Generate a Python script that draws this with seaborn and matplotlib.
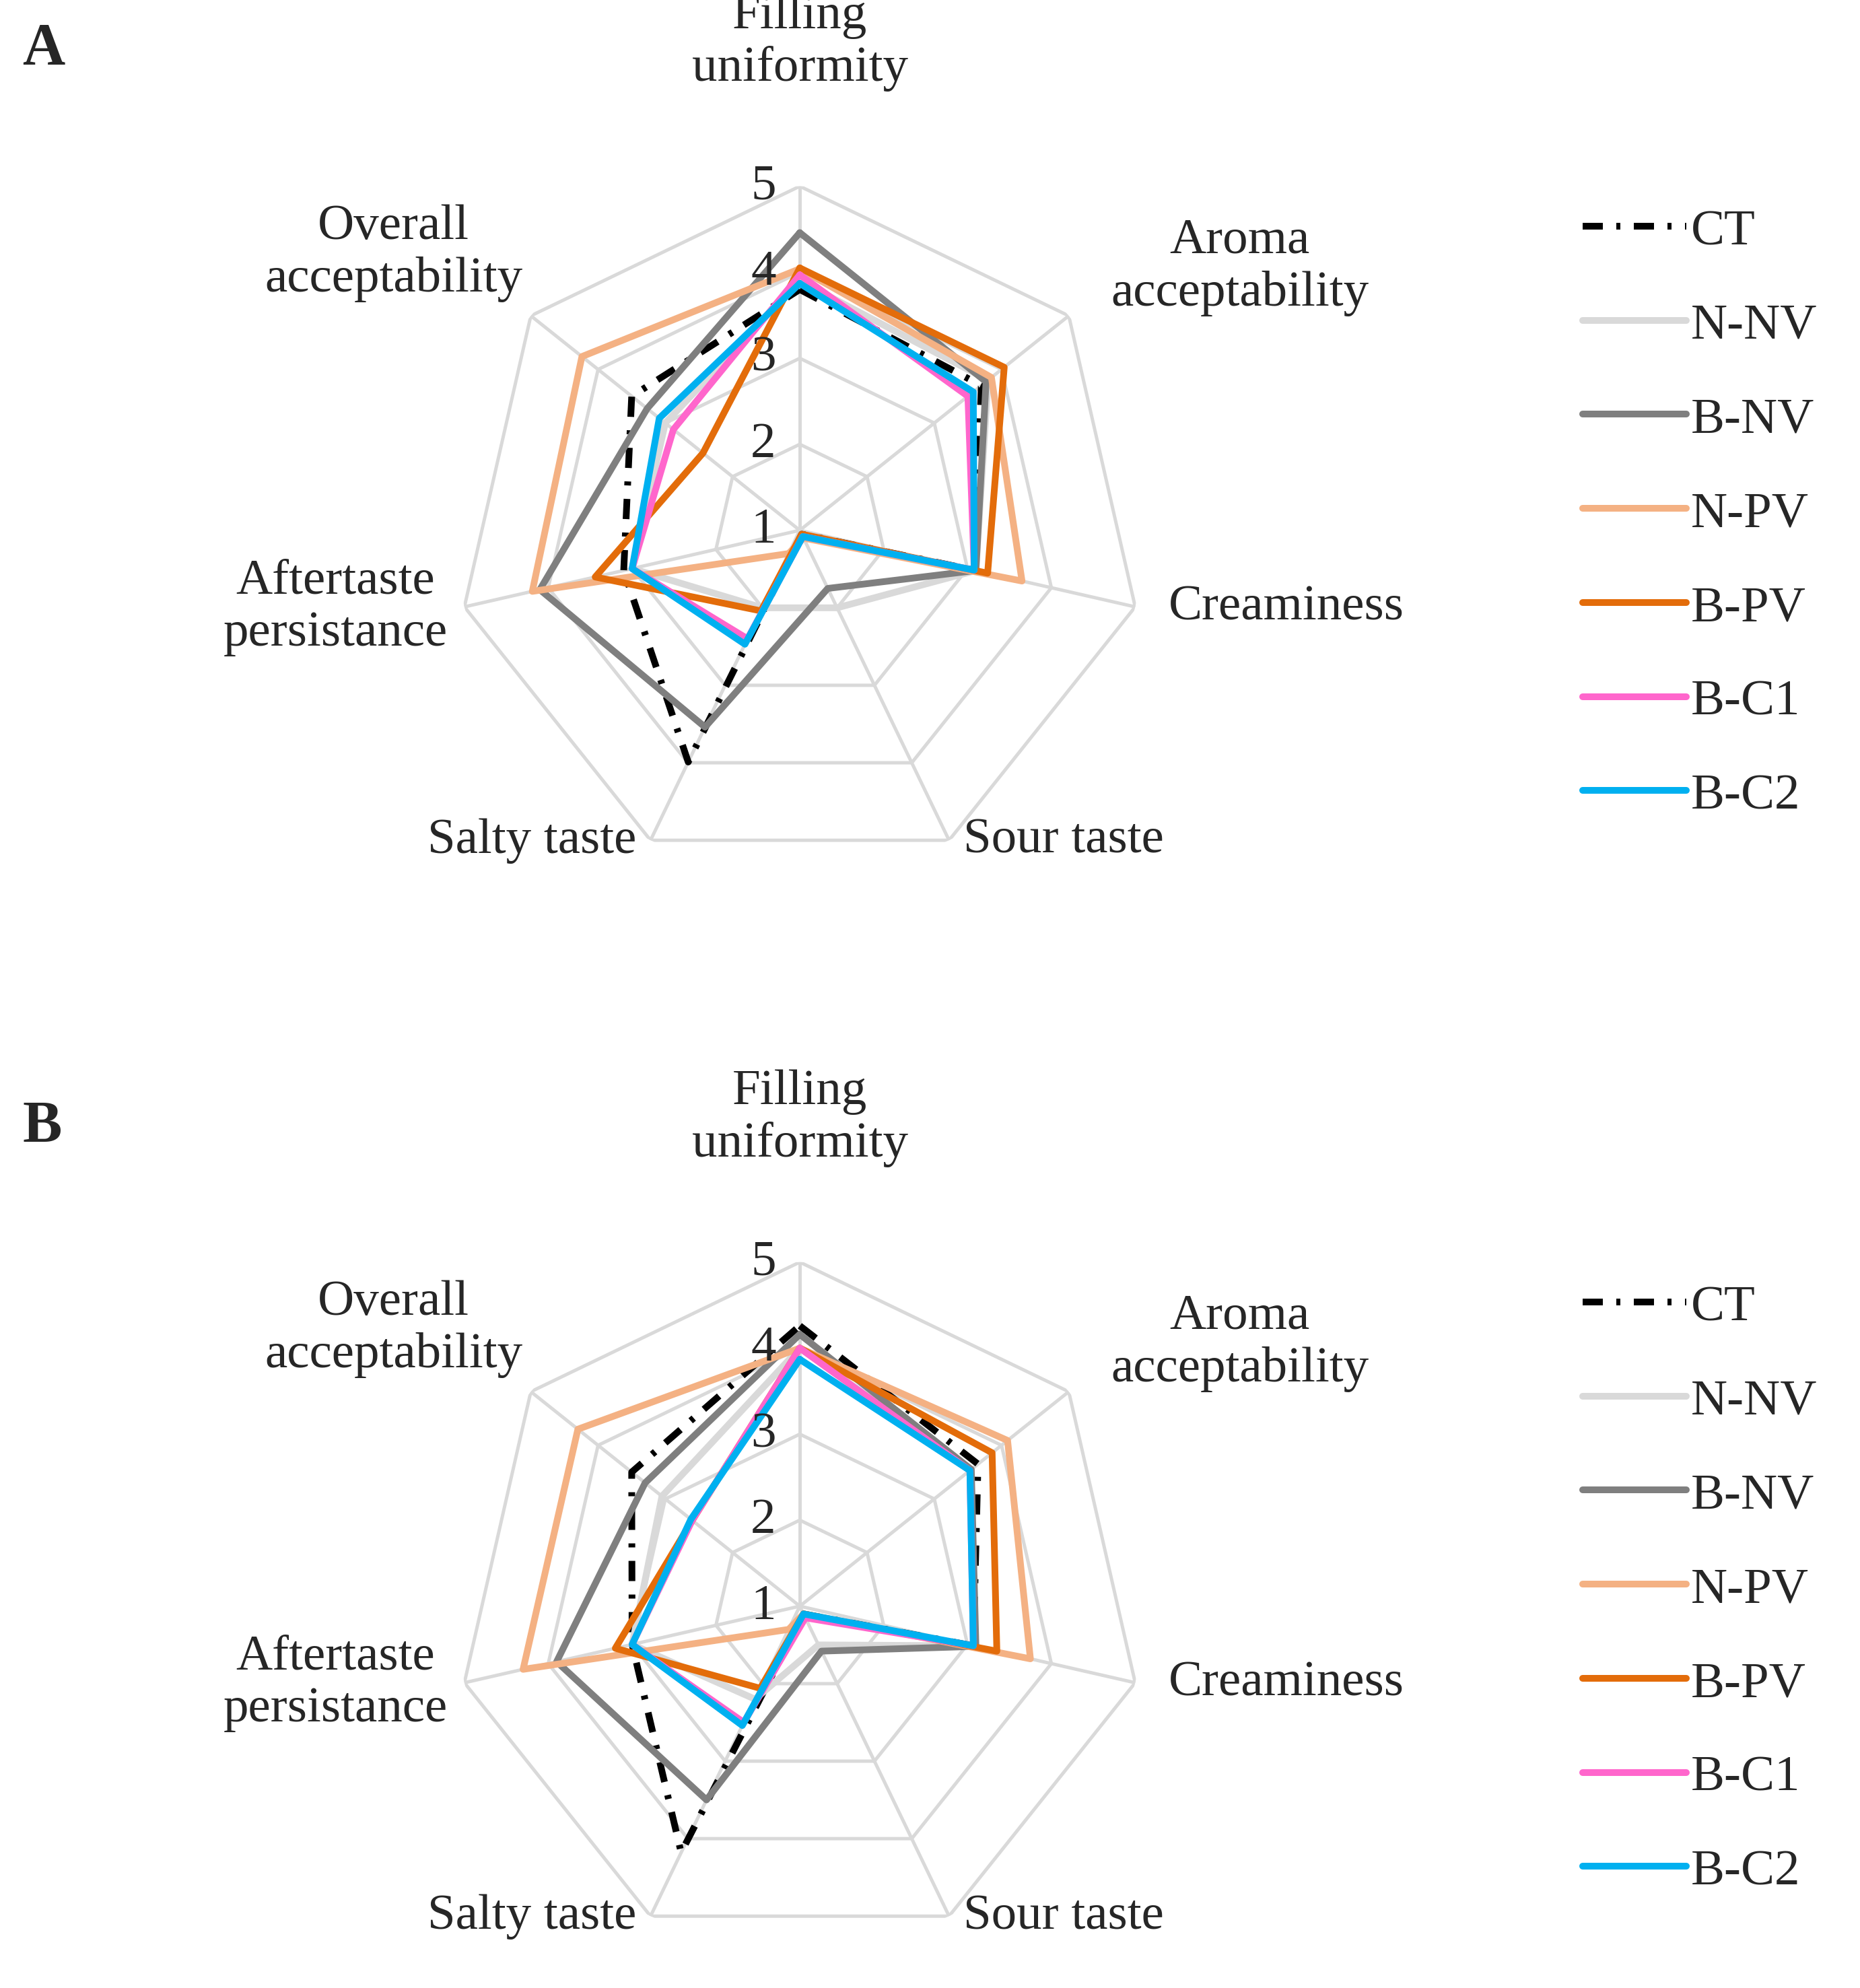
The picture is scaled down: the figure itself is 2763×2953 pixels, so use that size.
import numpy as np
import matplotlib
matplotlib.use("Agg")
import matplotlib.pyplot as plt
import seaborn as sns
from matplotlib.lines import Line2D

sns.set_theme(style="white")
plt.rcParams['font.family'] = ['Liberation Serif', 'DejaVu Serif']

categories = ["Filling\nuniformity", "Aroma\nacceptability", "Creaminess", "Sour taste",
              "Salty taste", "Aftertaste\npersistance", "Overall\nacceptability"]
series = ["CT", "N-NV", "B-NV", "N-PV", "B-PV", "B-C1", "B-C2"]
ring_labels = ["1", "2", "3", "4", "5"]

values_A = {
    "CT":   [3.80, 3.70, 3.08, 1.05, 3.99, 3.10, 3.50],
    "N-NV": [3.90, 3.80, 3.10, 2.00, 2.00, 3.00, 3.00],
    "B-NV": [4.46, 3.77, 3.10, 1.75, 3.54, 4.10, 3.27],
    "N-PV": [4.04, 3.85, 3.65, 1.10, 1.30, 4.19, 4.24],
    "B-PV": [4.05, 4.04, 3.24, 1.05, 2.04, 3.44, 2.44],
    "B-C1": [3.97, 3.50, 3.08, 1.08, 2.40, 3.00, 2.88],
    "B-C2": [3.87, 3.58, 3.08, 1.08, 2.47, 3.00, 3.09],
}
values_B = {
    "CT":   [4.26, 3.65, 3.07, 1.10, 4.18, 3.00, 3.50],
    "N-NV": [4.00, 3.55, 3.07, 1.50, 2.20, 3.00, 3.05],
    "B-NV": [4.16, 3.55, 3.10, 1.58, 3.50, 3.90, 3.30],
    "N-PV": [4.00, 4.09, 3.75, 1.10, 1.30, 4.30, 4.30],
    "B-PV": [4.00, 3.86, 3.35, 1.10, 2.06, 3.20, 2.60],
    "B-C1": [4.00, 3.53, 3.07, 1.15, 2.50, 3.00, 2.60],
    "B-C2": [3.87, 3.53, 3.07, 1.10, 2.54, 3.00, 2.62],
}

colors = {"CT": "black", "N-NV": "#d9d9d9", "B-NV": "#7f7f7f", "N-PV": "#f4b183",
          "B-PV": "#e36c0a", "B-C1": "#ff66cc", "B-C2": "#00b0f0"}
styles = {s: "-" for s in series}
styles["CT"] = (0, (3, 2, 0.6, 2))

fig = plt.figure(figsize=(2763/300, 2954/300), dpi=300)
n = len(categories)
theta = np.linspace(0, 2*np.pi, n, endpoint=False)

FS = 18
# (offset x pt, offset y pt, ha, va) relative to r=5 vertex
label_pos = [(0, 34, "center", "bottom"), (15, 0, "left", "bottom"),
             (12, 0, "left", "center"), (5, 0, "left", "center"),
             (-5, 0, "right", "center"), (-6, 0, "right", "center"),
             (-3, 5, "right", "bottom")]

def draw(rect, vals, letter, lettery):
    ax = fig.add_axes(rect, projection="polar")
    ax.set_theta_offset(np.pi/2)
    ax.set_theta_direction(-1)
    ax.set_ylim(1, 5)
    ax.grid(False)
    ax.spines["polar"].set_visible(False)
    ax.set_xticks([]); ax.set_yticks([])
    ax.patch.set_alpha(0)
    tc = np.append(theta, theta[0])
    for r in range(2, 6):
        ax.plot(tc, [r]*(n+1), color="#d9d9d9", lw=1.2, zorder=1)
    for t in theta:
        ax.plot([t, t], [1, 5], color="#d9d9d9", lw=1.2, zorder=1)
    for s in series:
        v = vals[s] + [vals[s][0]]
        ax.plot(tc, v, color=colors[s], lw=2.4, linestyle=styles[s], zorder=3)
    for i, lab in enumerate(ring_labels):
        ax.annotate(lab, xy=(0, i+1), xytext=(-13, 0), textcoords="offset points",
                    fontsize=FS, ha="center", va="center", zorder=4)
    for i, (t, lab) in enumerate(zip(theta, categories)):
        dx, dy, ha, va = label_pos[i]
        ax.annotate(lab, xy=(t, 5), xytext=(dx, dy), textcoords="offset points",
                    fontsize=FS, ha=ha, va=va, multialignment="center",
                    annotation_clip=False, linespacing=1.2)
    fig.text(0.012, lettery, letter, fontsize=21, fontweight="bold", va="center")
    handles = [Line2D([0], [0], color=colors[s], lw=2.4, linestyle=styles[s]) for s in series]
    return ax, handles

axA, handles = draw([0.245, 0.560, 0.37, 0.346], values_A, "A", 0.975)
axB, _ = draw([0.245, 0.019, 0.37, 0.346], values_B, "B", 0.433)
for y in (0.905, 0.364):
    fig.legend(handles, series, loc="upper left", bbox_to_anchor=(0.840, y), frameon=False,
               fontsize=FS, handlelength=2.05, handletextpad=0.1, labelspacing=0.95,
               borderaxespad=0)
fig.savefig("out.png", dpi=300)
